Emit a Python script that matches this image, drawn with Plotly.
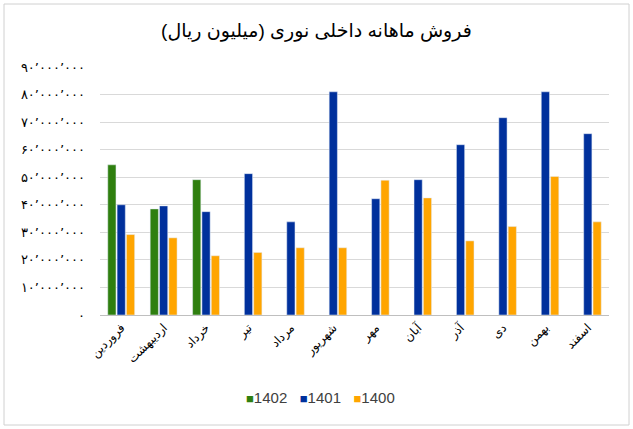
import plotly.graph_objects as go

months = ["فروردین", "اردیبهشت", "خرداد", "تیر", "مرداد", "شهریور",
          "مهر", "آبان", "آذر", "دی", "بهمن", "اسفند"]
s1402 = [54.5e6, 38.5e6, 49.1e6, None, None, None, None, None, None, None, None, None]
s1401 = [40.0e6, 39.6e6, 37.5e6, 51.3e6, 33.8e6, 81.0e6, 42.2e6, 49.1e6, 61.8e6, 71.6e6, 81.0e6, 65.8e6]
s1400 = [29.2e6, 28.0e6, 21.5e6, 22.7e6, 24.4e6, 24.4e6, 48.9e6, 42.5e6, 26.9e6, 32.1e6, 50.3e6, 33.8e6]
series_names = ["1402", "1401", "1400"]
series_colors = ["#2F7F0F", "#00309C", "#FFA500"]
ytick_vals = [0, 10e6, 20e6, 30e6, 40e6, 50e6, 60e6, 70e6, 80e6, 90e6]
ytick_text = ["۰", "۱۰٬۰۰۰٬۰۰۰", "۲۰٬۰۰۰٬۰۰۰", "۳۰٬۰۰۰٬۰۰۰", "۴۰٬۰۰۰٬۰۰۰",
              "۵۰٬۰۰۰٬۰۰۰", "۶۰٬۰۰۰٬۰۰۰", "۷۰٬۰۰۰٬۰۰۰", "۸۰٬۰۰۰٬۰۰۰", "۹۰٬۰۰۰٬۰۰۰"]

FONT = "Arial, 'Liberation Sans', 'DejaVu Sans', sans-serif"

L, R, T, B = 100, 609, 67, 315
W, H = R - L, B - T

fig = go.Figure()
for name, vals, col in zip(series_names, [s1402, s1401, s1400], series_colors):
    fig.add_trace(go.Bar(name=name, x=months, y=vals, marker_color=col))

legend_text = "&nbsp;&nbsp;&nbsp;".join(
    f"<span style='color:{c};font-size:13px'>■</span><span style='color:#404040'>{n}</span>"
    for n, c in zip(series_names, series_colors))

fig.update_layout(
    width=633, height=429,
    margin=dict(l=L, r=633 - R, t=T, b=429 - B),
    paper_bgcolor="white", plot_bgcolor="white",
    barmode="group", bargap=0.34, bargroupgap=0.12,
    font=dict(family=FONT, color="#000000"),
    title=dict(text="فروش ماهانه داخلی نوری (میلیون ریال)", x=0.5, xanchor="center",
               y=0.93, yanchor="middle", font=dict(size=19, color="#000000", family=FONT)),
    showlegend=False,
    xaxis=dict(tickangle=-45, tickfont=dict(size=12, color="#000000"),
               showline=True, linecolor="#BFBFBF", ticks="", showgrid=False),
    yaxis=dict(range=[0, 90e6], tickvals=ytick_vals, ticktext=ytick_text,
               tickfont=dict(size=13, color="#000000"), showgrid=True,
               gridcolor="#D9D9D9", zeroline=False, ticks="", ticklabelstandoff=14),
    annotations=[dict(text=legend_text, xref="paper", yref="paper",
                      x=(320 - L) / W, y=-(397 - B) / H, xanchor="center", yanchor="middle",
                      showarrow=False, font=dict(size=15, family=FONT))],
)
fig.add_shape(type="rect", xref="paper", yref="paper",
              x0=(4 - L) / W, x1=1 + (629 - R) / W,
              y0=-(425 - B) / H, y1=1 + (T - 4) / H,
              line=dict(color="#D0D0D0", width=1))

fig.write_html("out.html")
